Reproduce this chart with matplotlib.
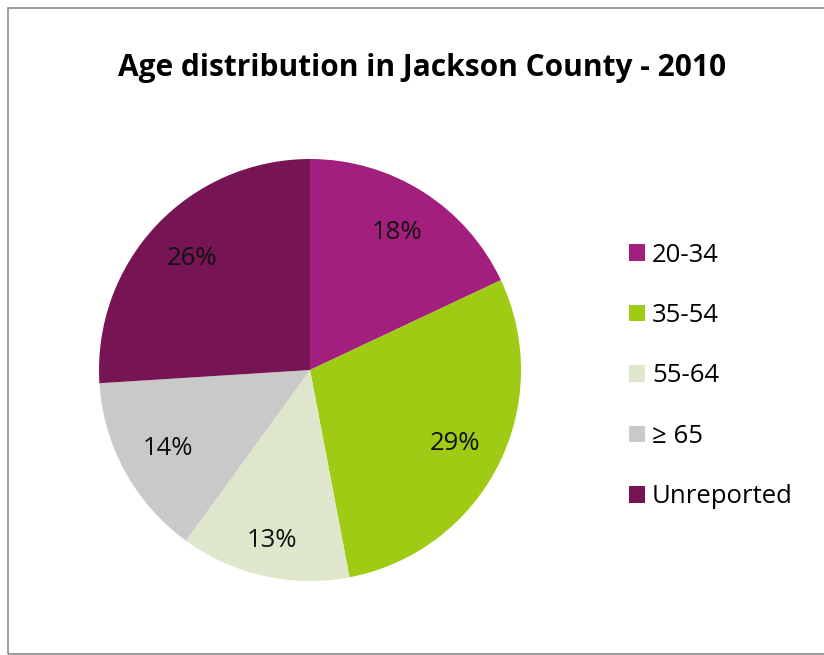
import numpy as np
import matplotlib.pyplot as plt
from matplotlib.patches import Rectangle, Patch

plt.rcParams['font.family'] = ['Open Sans', 'DejaVu Sans']

# age groups and their share of the population
groups = ['20-34', '35-54', '55-64', '\u2265 65', 'Unreported']
shares = [18, 29, 13, 14, 26]
colors = ['#A21F7D', '#9FCB15', '#DEE7CB', '#C9C9C9', '#761454']

W, H = 824, 655
fig = plt.figure(figsize=(W / 100, H / 100), dpi=100)

# thin frame around the chart area
fig.patches.append(Rectangle((8 / W, 1 - 654 / H), 1.0, (654 - 8) / H,
                             transform=fig.transFigure, fill=False,
                             edgecolor='#8c8c8c', linewidth=1.2))

fig.text(422 / W, 1 - 68 / H, 'Age distribution in Jackson County - 2010',
         ha='center', va='center', fontsize=21.5, fontweight='bold')

# pie centred at (310, 370) px, radius 211 px
r = 211
ax = fig.add_axes([(310 - r) / W, 1 - (370 + r) / H, 2 * r / W, 2 * r / H])
wedges, texts, autotexts = ax.pie(shares, colors=colors, startangle=90,
                                  counterclock=False, autopct='%d%%',
                                  pctdistance=0.77,
                                  textprops={'fontsize': 18.5, 'color': '#111111'})

# the narrow 55-64 slice has its label pushed a bit further out
ang = np.deg2rad((wedges[2].theta1 + wedges[2].theta2) / 2)
autotexts[2].set_position((0.83 * np.cos(ang), 0.83 * np.sin(ang)))

ax.set_xlim(-1, 1)
ax.set_ylim(-1, 1)
ax.set_aspect('equal')
ax.axis('off')

handles = [Patch(facecolor=c, edgecolor='none') for c in colors]
fig.legend(handles, groups, loc='center left',
           bbox_to_anchor=(629 / W, 1 - 376 / H), frameon=False,
           fontsize=18.5, handlelength=0.63, handleheight=0.63,
           handletextpad=0.27, labelspacing=1.38,
           borderpad=0, borderaxespad=0)

fig.savefig('out.png', dpi=100)
